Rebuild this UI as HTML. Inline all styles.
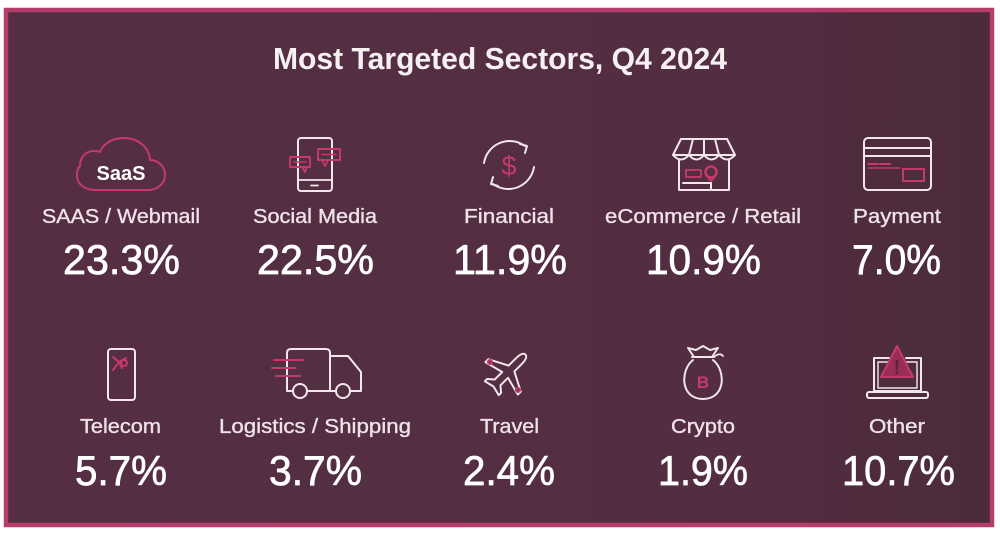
<!DOCTYPE html>
<html>
<head>
<meta charset="utf-8">
<style>
  html,body{margin:0;padding:0;background:#ffffff;}
  svg{display:block;}
  .t{font-family:"Liberation Sans",sans-serif;}
</style>
</head>
<body>
<svg width="1000" height="535" viewBox="0 0 1000 535" xmlns="http://www.w3.org/2000/svg">
  <defs>
    <linearGradient id="bg" x1="0" y1="0" x2="1" y2="0">
      <stop offset="0" stop-color="#552e44"/>
      <stop offset="0.8" stop-color="#532d42"/>
      <stop offset="0.86" stop-color="#4e2c3e"/>
      <stop offset="1" stop-color="#4c2b3c"/>
    </linearGradient>
  </defs>
  <rect x="0" y="0" width="1000" height="535" fill="#ffffff"/>
  <rect x="6" y="10" width="986" height="515" fill="url(#bg)" stroke="#b53c6b" stroke-width="4.5"/>

  <!-- Title -->
  <text class="t" x="273" y="69" font-size="31" font-weight="bold" fill="#f7f0f3" textLength="454" lengthAdjust="spacingAndGlyphs">Most Targeted  Sectors, Q4 2024</text>

  <!-- Row 1 labels -->
  <g class="t" font-size="20" fill="#efe3e9" stroke="#efe3e9" stroke-width="0.35">
    <text x="42" y="223" textLength="158" lengthAdjust="spacingAndGlyphs">SAAS / Webmail</text>
    <text x="253" y="223" textLength="124" lengthAdjust="spacingAndGlyphs">Social Media</text>
    <text x="464" y="223" textLength="90" lengthAdjust="spacingAndGlyphs">Financial</text>
    <text x="605" y="223" textLength="196" lengthAdjust="spacingAndGlyphs">eCommerce / Retail</text>
    <text x="853" y="223" textLength="88" lengthAdjust="spacingAndGlyphs">Payment</text>
  </g>
  <!-- Row 1 values -->
  <g class="t" font-size="42" fill="#ffffff" stroke="#ffffff" stroke-width="0.7">
    <text x="63" y="274" textLength="117" lengthAdjust="spacingAndGlyphs">23.3%</text>
    <text x="257" y="274" textLength="117" lengthAdjust="spacingAndGlyphs">22.5%</text>
    <text x="453" y="274" textLength="114" lengthAdjust="spacingAndGlyphs">11.9%</text>
    <text x="646" y="274" textLength="115" lengthAdjust="spacingAndGlyphs">10.9%</text>
    <text x="852" y="274" textLength="89" lengthAdjust="spacingAndGlyphs">7.0%</text>
  </g>

  <!-- Row 2 labels -->
  <g class="t" font-size="20" fill="#efe3e9" stroke="#efe3e9" stroke-width="0.35">
    <text x="80" y="433" textLength="81" lengthAdjust="spacingAndGlyphs">Telecom</text>
    <text x="219" y="433" textLength="192" lengthAdjust="spacingAndGlyphs">Logistics / Shipping</text>
    <text x="480" y="433" textLength="59" lengthAdjust="spacingAndGlyphs">Travel</text>
    <text x="671" y="433" textLength="64" lengthAdjust="spacingAndGlyphs">Crypto</text>
    <text x="869" y="433" textLength="56" lengthAdjust="spacingAndGlyphs">Other</text>
  </g>
  <!-- Row 2 values -->
  <g class="t" font-size="42" fill="#ffffff" stroke="#ffffff" stroke-width="0.7">
    <text x="75" y="485" textLength="92" lengthAdjust="spacingAndGlyphs">5.7%</text>
    <text x="269" y="485" textLength="93" lengthAdjust="spacingAndGlyphs">3.7%</text>
    <text x="463" y="485" textLength="92" lengthAdjust="spacingAndGlyphs">2.4%</text>
    <text x="658" y="485" textLength="90" lengthAdjust="spacingAndGlyphs">1.9%</text>
    <text x="842" y="485" textLength="113" lengthAdjust="spacingAndGlyphs">10.7%</text>
  </g>

  <!-- ICONS -->
  <g fill="none" stroke-linecap="round" stroke-linejoin="round">
    <!-- SaaS cloud -->
    <path d="M95 190 H148 C158 190 165 183 165 175 C165 166 158 160 150 160 C149 147 138 138 124 138 C112 138 103 144 100 152 C98 151 96 151 94 151 C85 151 80 158 80 166 C77 169 77 173 77 176 C77 184 85 190 95 190 Z" stroke="#c63a6b" stroke-width="2"/>

    <!-- Social media phone -->
    <rect x="298" y="138" width="34" height="53" rx="3" stroke="#f3e6ec" stroke-width="2"/>
    <line x1="298" y1="180" x2="332" y2="180" stroke="#f3e6ec" stroke-width="1.8"/>
    <line x1="311" y1="185.5" x2="318" y2="185.5" stroke="#f3e6ec" stroke-width="1.8"/>
    <rect x="290" y="157" width="20" height="10" stroke="#c63a6b" stroke-width="2"/>
    <path d="M302 167 L305 172 L307 167" stroke="#c63a6b" stroke-width="1.8"/>
    <line x1="294" y1="162" x2="306" y2="162" stroke="#c63a6b" stroke-width="1.5"/>
    <rect x="318" y="149" width="22" height="11" stroke="#c63a6b" stroke-width="2"/>
    <path d="M322 160 L325 166 L328 160" stroke="#c63a6b" stroke-width="1.8"/>
    <line x1="322" y1="154.5" x2="336" y2="154.5" stroke="#c63a6b" stroke-width="1.5"/>

    <!-- Financial -->
    <path d="M525 146 A26 26 0 0 0 484 163" stroke="#f3e6ec" stroke-width="2"/>
    <path d="M493 184 A26 26 0 0 0 534 167" stroke="#f3e6ec" stroke-width="2"/>
    <path d="M520 144 L527 146 L525 153" stroke="#f3e6ec" stroke-width="2"/>
    <path d="M498 186 L491 184 L493 177" stroke="#f3e6ec" stroke-width="2"/>

    <!-- eCommerce store -->
    <path d="M681 139 H727 L735 155 H673 Z" stroke="#f3e6ec" stroke-width="2"/>
    <path d="M693 139 L689 155 M704 139 L704 155 M715 139 L719 155" stroke="#f3e6ec" stroke-width="2"/>
    <path d="M673 155 Q681 164 689 155 Q696.5 164 704 155 Q711.5 164 719 155 Q727 164 735 155" stroke="#f3e6ec" stroke-width="2"/>
    <path d="M679 160 V190 H729 V160" stroke="#f3e6ec" stroke-width="2"/>
    <path d="M683 183 H711 V190" stroke="#f3e6ec" stroke-width="2"/>
    <rect x="686" y="170" width="15" height="7" stroke="#c63a6b" stroke-width="1.8"/>
    <circle cx="711" cy="172" r="5.5" stroke="#c63a6b" stroke-width="2.5"/>
    <path d="M706 175 L711 181 L716 175" stroke="#c63a6b" stroke-width="2"/>

    <!-- Payment card -->
    <rect x="864" y="138" width="67" height="52" rx="4" stroke="#f3e6ec" stroke-width="2"/>
    <line x1="864" y1="148" x2="931" y2="148" stroke="#f3e6ec" stroke-width="2"/>
    <line x1="864" y1="156" x2="931" y2="156" stroke="#f3e6ec" stroke-width="2"/>
    <line x1="868" y1="164" x2="878" y2="164" stroke="#c63a6b" stroke-width="2"/>
    <line x1="880" y1="164" x2="890" y2="164" stroke="#c63a6b" stroke-width="2"/>
    <line x1="868" y1="168" x2="900" y2="168" stroke="#c63a6b" stroke-width="1.6"/>
    <rect x="903" y="169" width="21" height="12" stroke="#c63a6b" stroke-width="2"/>

    <!-- Telecom phone -->
    <rect x="108" y="349" width="27" height="51" rx="3" stroke="#f3e6ec" stroke-width="2"/>
    <path d="M113 357 L119 362 L113 370 M119 362 L126 358 M119 362 L122 368" stroke="#c63a6b" stroke-width="2"/>
    <circle cx="124" cy="363" r="3" stroke="#c63a6b" stroke-width="2"/>

    <!-- Truck -->
    <path d="M287 385 V353 Q287 349 291 349 H326 Q330 349 330 353 V391 H336" stroke="#f3e6ec" stroke-width="2"/>
    <path d="M330 356 H348 L361 372 V391 H351" stroke="#f3e6ec" stroke-width="2"/>
    <path d="M287 385 V391 H293" stroke="#f3e6ec" stroke-width="2"/>
    <line x1="307" y1="391" x2="336" y2="391" stroke="#f3e6ec" stroke-width="2"/>
    <circle cx="300" cy="391" r="7" stroke="#f3e6ec" stroke-width="2"/>
    <circle cx="343" cy="391" r="7" stroke="#f3e6ec" stroke-width="2"/>
    <line x1="274" y1="360" x2="303" y2="360" stroke="#c63a6b" stroke-width="2"/>
    <line x1="272" y1="368" x2="295" y2="368" stroke="#c63a6b" stroke-width="2"/>
    <line x1="276" y1="376" x2="300" y2="376" stroke="#c63a6b" stroke-width="2"/>

    <!-- Plane -->
    <g transform="translate(508 372) rotate(45) scale(0.82)">
      <path d="M0 -30 C4 -30 5 -24 5 -18 L5 -6 L28 6 L28 11 L5 5 L5 18 L12 24 L12 28 L0 25 L-12 28 L-12 24 L-5 18 L-5 5 L-28 11 L-28 6 L-5 -6 L-5 -18 C-5 -24 -4 -30 0 -30 Z" stroke="#f3e6ec" stroke-width="2.4"/>
    </g>
    <circle cx="490" cy="362" r="2" stroke="#c63a6b" stroke-width="2"/>
    <circle cx="518" cy="390" r="2" stroke="#c63a6b" stroke-width="2"/>

    <!-- Crypto bag -->
    <path d="M693 360 C680 370 680 399 703 399 C726 399 726 370 713 360" stroke="#f3e6ec" stroke-width="2"/>
    <path d="M692 357 H714" stroke="#f3e6ec" stroke-width="2"/>
    <path d="M694 357 L688 348 L696 350 L703 346 L710 350 L718 348 L712 357" stroke="#f3e6ec" stroke-width="2"/>
    <path d="M714 357 Q720 352 723 356" stroke="#f3e6ec" stroke-width="1.8"/>

    <!-- Other laptop -->
    <path d="M889 358 H874 V391 H921 V358 H906" stroke="#f3e6ec" stroke-width="2"/>
    <path d="M889 362 H878 V388 H917 V362 H906" stroke="#f3e6ec" stroke-width="1.4"/>
    <rect x="867" y="392" width="61" height="6" rx="2" stroke="#f3e6ec" stroke-width="2"/>
    <path d="M897 346 L881 377 H913 Z" fill="#9a2d58" stroke="#c63a6b" stroke-width="2"/>
  </g>
  <text class="t" x="897" y="374" font-size="20" font-weight="bold" fill="#5a2240" text-anchor="middle">!</text>

  <!-- icon texts -->
  <text class="t" x="121" y="180" font-size="20" font-weight="bold" fill="#ffffff" text-anchor="middle">SaaS</text>
  <text class="t" x="509" y="175" font-size="27" fill="#c63a6b" text-anchor="middle">$</text>
  <text class="t" x="703" y="388" font-size="17" font-weight="bold" fill="#c63a6b" text-anchor="middle">B</text>
</svg>
</body>
</html>
